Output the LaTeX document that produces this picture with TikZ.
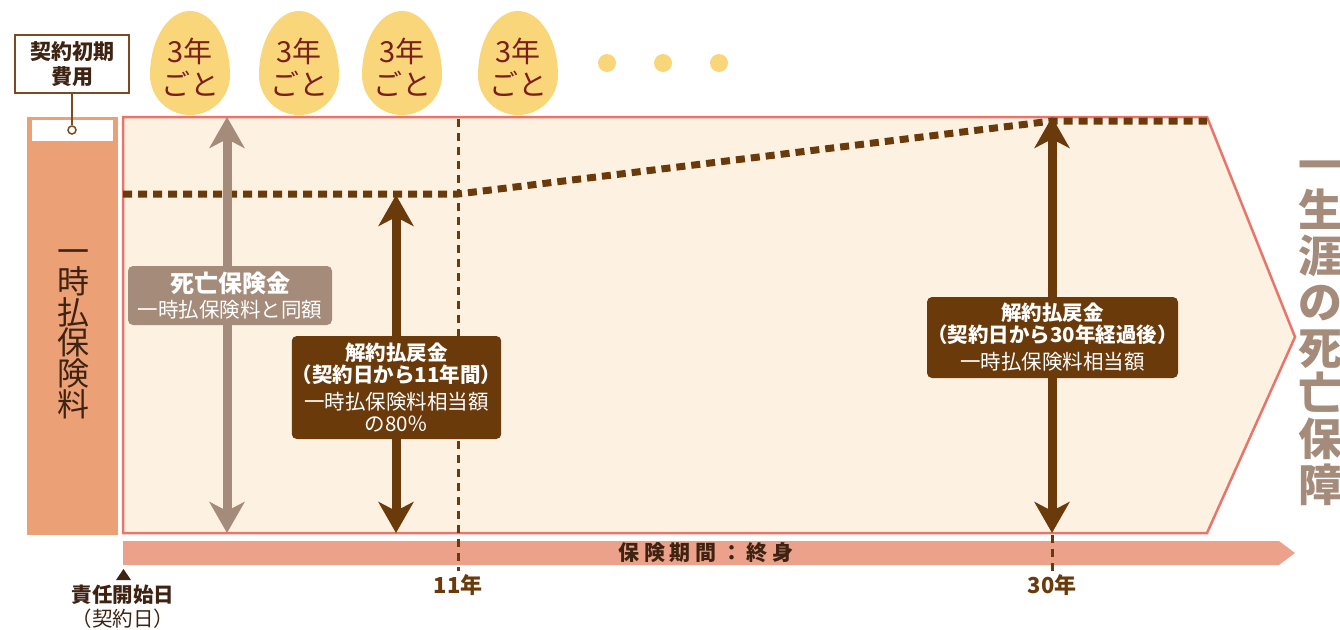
\documentclass[tikz,border=0pt]{standalone}
\usepackage{fontspec}
\setmainfont{Noto Sans CJK JP}
\usetikzlibrary{arrows.meta}
\definecolor{frameline}{HTML}{E8756C}
\definecolor{framefill}{HTML}{FDF1E1}
\definecolor{premium}{HTML}{ECA075}
\definecolor{period}{HTML}{ECA18A}
\definecolor{egg}{HTML}{FAD67B}
\definecolor{eggtext}{HTML}{7B1E1E}
\definecolor{deathgrey}{HTML}{A48B7A}
\definecolor{refund}{HTML}{6A3A0B}
\definecolor{darktext}{HTML}{3E2312}
\definecolor{labelbrown}{HTML}{7B4A20}

\begin{document}
\begin{tikzpicture}[x=1pt,y=-1pt,
  bigarrow/.style={line width=9pt,{Stealth[length=31pt,width=35pt,inset=9pt]}-{Stealth[length=31pt,width=35pt,inset=9pt]}},
  infobox/.style={rounded corners=5pt,text=white,align=center,inner sep=0pt,font=\fontsize{20.5}{22}\selectfont},
  yearlabel/.style={text=refund,font=\fontsize{22}{22}\selectfont\bfseries}]
\useasboundingbox (0,0) rectangle (1340,629);
% frame and period bar
\draw[frameline, fill=framefill, line width=2.5pt] (123,117) -- (1207,117) -- (1295,337) -- (1207,533) -- (123,533) -- cycle;
\fill[period] (123,541) -- (1279,541) -- (1295,553) -- (1279,565) -- (123,565) -- cycle;
\node[text=darktext, font=\fontsize{21}{21}\selectfont\bfseries\addfontfeature{LetterSpace=22}] (term) at (706,553) {保険期間：終身};
% premium column
\fill[premium] (27,117) rectangle (118,535);
\fill[white] (32,120) rectangle (113,141);
\node[text=darktext, align=center, font=\fontsize{32}{30.6}\selectfont] (lump) at (73,334) {一\\時\\払\\保\\険\\料};
\node[draw=labelbrown, line width=1.5pt, fill=white, minimum width=114pt, minimum height=58pt, inner sep=0pt, align=center, text=darktext, font=\fontsize{21}{25}\selectfont\bfseries] (cost) at (72,64) {契約初期\\費用};
\node[circle, draw=labelbrown, fill=white, line width=1.5pt, minimum size=8pt, inner sep=0pt] (pin) at (72,130) {};
\draw[labelbrown, line width=1.5pt] (cost) -- (pin);
% eggs
\foreach \x [count=\i] in {190,299,402,518}{
  \fill[egg] (\x-40,75) arc[start angle=180,end angle=360,x radius=40,y radius=64] arc[start angle=0,end angle=180,x radius=40,y radius=40] -- cycle;
  \node[text=eggtext, align=center, font=\fontsize{29}{33}\selectfont] (egg\i) at (\x,67) {3年\\ごと};
}
\foreach \x in {607,663,719}
  \fill[egg] (\x,63) circle[radius=9];
% year marks
\node[yearlabel] (y11) at (458,585) {11年};
\node[yearlabel] (y30) at (1052,585) {30年};
\coordinate (m11top) at (458,119);
\coordinate (m30top) at (1052,535);
\draw[refund, line width=3pt, dash pattern=on 8pt off 6pt] (m11top) -- (y11.north);
\draw[refund, line width=3pt, dash pattern=on 8pt off 6pt] (m30top) -- (y30.north);
% refund level
\draw[refund, line width=7pt, dash pattern=on 9pt off 6pt] (123,194) -- (458,194) -- (1052,121) -- (1207,121);
% arrows
\coordinate (dtop) at (227,117);
\coordinate (dbot) at (227,533);
\coordinate (r1top) at (396,195);
\coordinate (r1bot) at (396,533);
\coordinate (r2top) at (1052,117);
\coordinate (r2bot) at (1052,533);
\draw[bigarrow, deathgrey] (dtop) -- (dbot);
\draw[bigarrow, refund] (r1top) -- (r1bot);
\draw[bigarrow, refund] (r2top) -- (r2bot);
% boxes
\node[infobox, fill=deathgrey, minimum width=204pt, minimum height=59pt] (death) at (230,295.5) {{\fontsize{24}{27}\selectfont\bfseries 死亡保険金}\\[3pt]一時払保険料と同額};
\node[infobox, fill=refund, minimum width=207pt, minimum height=103pt] (refund11) at (396.5,387.5) {{\bfseries 解約払戻金}\\{\bfseries （契約日から11年間）}\\[5pt]一時払保険料相当額\\の80％};
\node[infobox, fill=refund, minimum width=251pt, minimum height=81pt] (refund30) at (1052.5,337.5) {{\bfseries 解約払戻金}\\{\bfseries （契約日から30年経過後）}\\[5pt]一時払保険料相当額};
% start date
\fill[darktext] (116,580) -- (131,580) -- (123.5,569) -- cycle;
\node[text=darktext, align=center, font=\fontsize{20.5}{24}\selectfont] (start) at (123,607) {{\bfseries 責任開始日}\\（契約日）};
% lifetime
\node[text=deathgrey, align=center, font=\fontsize{44}{45.7}\selectfont\bfseries] (life) at (1320,333) {一\\生\\涯\\の\\死\\亡\\保\\障};
\end{tikzpicture}
\end{document}
